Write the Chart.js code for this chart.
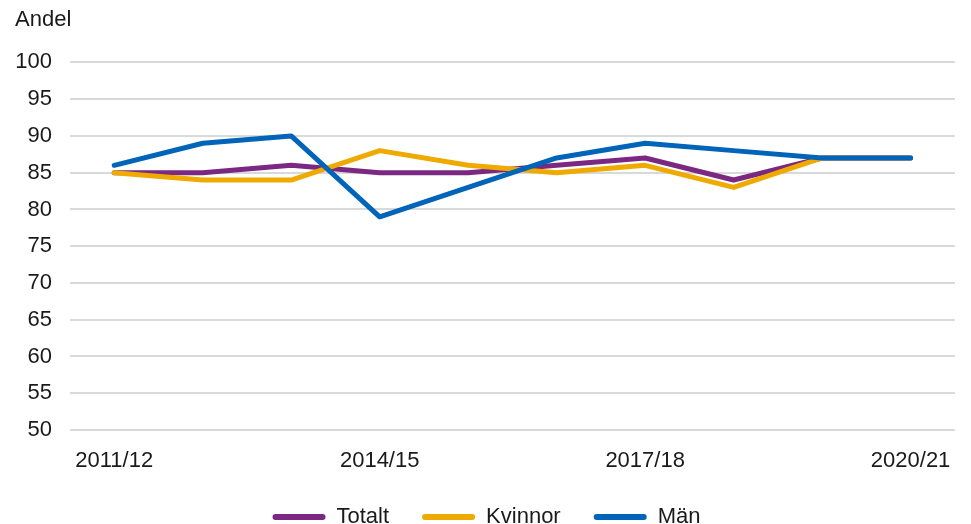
<!DOCTYPE html>
<html>
<head>
<meta charset="utf-8">
<script src="https://cdn.jsdelivr.net/npm/chart.js@4.4.0/dist/chart.umd.min.js"></script>
<style>
  body { margin: 0; background: #fff; }
  #wrap { width: 971px; height: 524px; }
</style>
</head>
<body>
<div id="wrap"><canvas id="andelChart"></canvas></div>
<script>
// Läsåren
const years = ['2011/12', '2012/13', '2013/14', '2014/15', '2015/16', '2016/17', '2017/18', '2018/19', '2019/20', '2020/21'];

// Andel per grupp
const totalt  = [85, 85, 86, 85, 85, 86, 87, 84, 87, 87];
const kvinnor = [85, 84, 84, 88, 86, 85, 86, 83, 87, 87];
const man     = [86, 89, 90, 79, 83, 87, 89, 88, 87, 87];

const yTicks = [50, 55, 60, 65, 70, 75, 80, 85, 90, 95, 100];

Chart.defaults.font.family = '"Liberation Sans", Arial, sans-serif';
Chart.defaults.font.size = 22;
Chart.defaults.color = '#1a1a1a';

const ctx = document.getElementById('andelChart').getContext('2d');
new Chart(ctx, {
    type: 'line',
    data: {
        labels: years,
        datasets: [
            // Män ritas sist (överst), som i originalet
            { label: 'Totalt', data: totalt, borderColor: '#7B2882', backgroundColor: '#7B2882', order: 3 },
            { label: 'Kvinnor', data: kvinnor, borderColor: '#EFAA00', backgroundColor: '#EFAA00', order: 2 },
            { label: 'Män', data: man, borderColor: '#0064B9', backgroundColor: '#0064B9', order: 1 }
        ]
    },
    options: {
        responsive: true,
        maintainAspectRatio: false,
        animation: false,
        layout: { padding: { left: 15, right: 13, top: 0, bottom: 0 } },
        elements: {
            line: { borderWidth: 5, tension: 0, borderCapStyle: 'round', borderJoinStyle: 'round' },
            point: { radius: 0, hoverRadius: 0 }
        },
        scales: {
            x: {
                offset: true,
                grid: { display: false, drawTicks: false },
                border: { display: false },
                ticks: {
                    autoSkip: false,
                    maxRotation: 0,
                    padding: 20,
                    font: { lineHeight: 1 },
                    callback: function (val, i) { return i % 3 === 0 ? years[i] : ''; }
                },
                afterFit: function (scale) { scale.height = 43; }
            },
            y: {
                min: 50,
                max: 100,
                afterBuildTicks: function (axis) { axis.ticks = yTicks.map(v => ({ value: v })); },
                afterFit: function (scale) { scale.width = 55; },
                grid: { color: '#d9d9d9', lineWidth: 2, drawTicks: false },
                border: { display: false },
                ticks: { padding: 18 }
            }
        },
        plugins: {
            title: {
                display: true,
                text: 'Andel',
                align: 'start',
                font: { size: 22, weight: 'normal' },
                padding: { top: 7, bottom: 29 }
            },
            legend: {
                position: 'bottom',
                maxHeight: 51,
                labels: {
                    boxWidth: 53,
                    boxHeight: 6,
                    padding: 33,
                    useBorderRadius: true,
                    borderRadius: 3,
                    sort: (a, b) => a.datasetIndex - b.datasetIndex,
                    generateLabels: chart =>
                        Chart.defaults.plugins.legend.labels.generateLabels(chart)
                            .map(item => Object.assign(item, { lineWidth: 0 }))
                }
            },
            tooltip: { enabled: false }
        }
    }
});
</script>
</body>
</html>
